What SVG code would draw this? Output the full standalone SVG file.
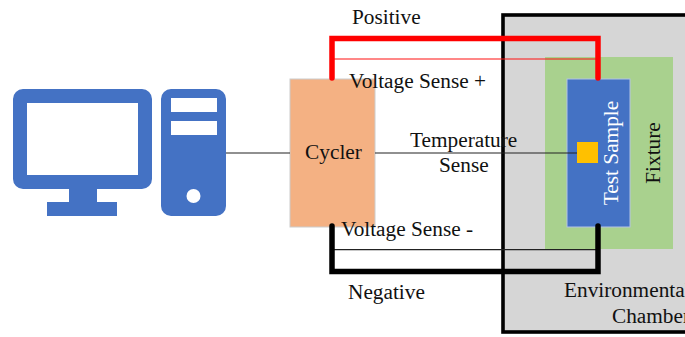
<svg xmlns="http://www.w3.org/2000/svg" width="685" height="337" viewBox="0 0 685 337">
<style>
text{font-family:"Liberation Serif","Times New Roman",serif;font-size:21.3px;fill:#111}
.blue{fill:#4472c4}
.hole{fill:#fff}
.thick{fill:none;stroke-width:5.5;stroke-linecap:round;stroke-linejoin:miter}
.thin{fill:none;stroke-width:1.2}
</style>
<rect width="685" height="337" fill="#fff"/>
<g id="chamber">
<rect x="503" y="15" width="190" height="317" fill="#d6d6d6" stroke="#000" stroke-width="3.6"/>
<text x="564" y="297">Environmental</text>
<text x="612" y="323">Chamber</text>
</g>
<g id="fixture">
<rect x="545" y="57" width="128" height="192" fill="#a9d18e"/>
<text transform="translate(660 153) rotate(-90)" text-anchor="middle">Fixture</text>
</g>
<g id="test-sample">
<rect x="567" y="79" width="63" height="148" class="blue" stroke="#b4c4e4" stroke-width="1"/>
<text transform="translate(618 153) rotate(-90)" text-anchor="middle" style="fill:#fff">Test Sample</text>
</g>
<g id="computer">
<path class="blue" fill-rule="evenodd" d="M23 89H142a10 10 0 0 1 10 10V179a10 10 0 0 1-10 10H97V202H117V216H47V202H69V189H23a10 10 0 0 1-10-10V99a10 10 0 0 1 10-10ZM27 103V175H138V103Z"/>
<path class="blue" fill-rule="evenodd" d="M171 89H216a10 10 0 0 1 10 10V206a10 10 0 0 1-10 10H171a10 10 0 0 1-10-10V99a10 10 0 0 1 10-10ZM171 98V112H217V98ZM171 121V135H217V121Z"/>
<circle class="hole" cx="193.500" cy="196" r="7"/>
</g>
<g id="cycler">
<rect x="290" y="79" width="85" height="148" fill="#f4b183" stroke="#ccc" stroke-width="1"/>
<text x="333.500" y="159" text-anchor="middle">Cycler</text>
</g>
<g id="connectors">
<path class="thin" stroke="#222" d="M226 153H290M375 153H577"/>
<path class="thin" stroke="#f11" d="M332 59H598"/>
<path class="thin" stroke="#222" d="M332 249.700H598"/>
<path class="thick" stroke="#f00" d="M332 78V38.500H598V78"/>
<path class="thick" stroke="#000" d="M332 226V271.500H598V226"/>
</g>
<g id="sensor">
<rect x="577" y="142" width="21" height="21" fill="#ffc000"/>
</g>
<g id="labels">
<text x="352" y="24">Positive</text>
<text x="349" y="88">Voltage Sense +</text>
<text x="410" y="147">Temperature</text>
<text x="439" y="172">Sense</text>
<text x="341" y="236">Voltage Sense -</text>
<text x="348" y="299">Negative</text>
</g>
</svg>
